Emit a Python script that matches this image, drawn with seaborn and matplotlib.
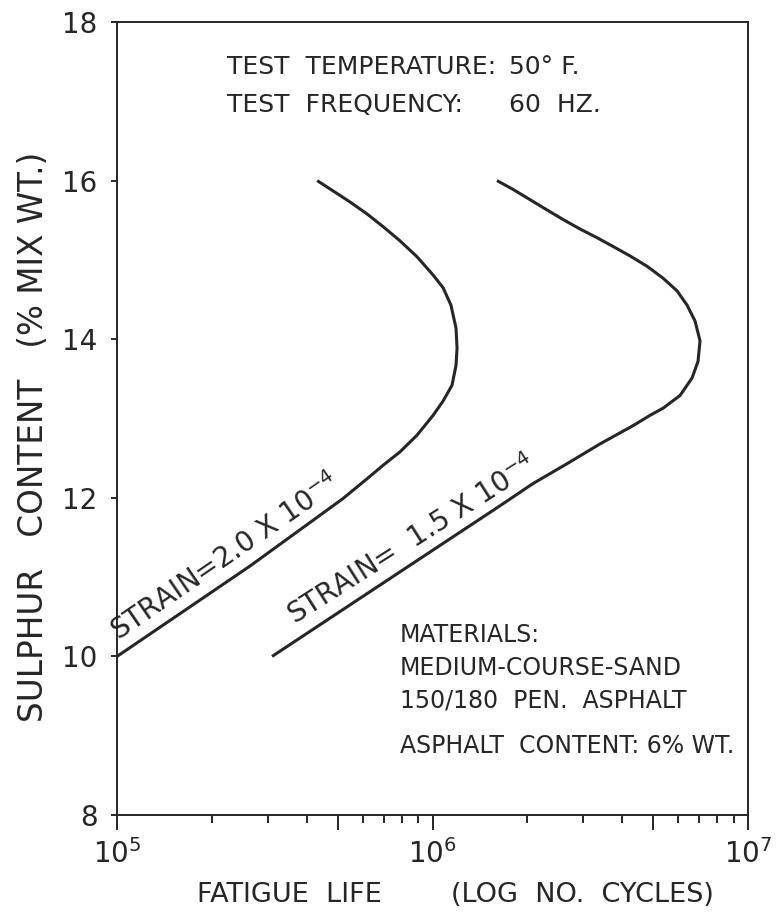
import matplotlib
matplotlib.use("Agg")
import matplotlib.pyplot as plt
from matplotlib.ticker import FixedLocator, FuncFormatter, NullFormatter
import numpy as np
import pandas as pd
import seaborn as sns

# Fatigue life (cycles) vs sulphur content (% mix wt.) for two strain levels
life_strain_20 = [1.00e5, 2.64e5, 5.20e5, 6.20e5, 6.97e5, 7.89e5, 8.93e5,
                  1.004e6, 1.080e6, 1.153e6, 1.187e6, 1.196e6, 1.187e6,
                  1.144e6, 1.080e6, 1.004e6, 8.93e5, 7.89e5, 6.97e5,
                  6.20e5, 5.48e5, 4.84e5, 4.31e5]
sulphur_strain_20 = [10.0, 11.14, 11.99, 12.24, 12.41, 12.58, 12.79,
                     13.04, 13.22, 13.42, 13.67, 13.89, 14.14,
                     14.43, 14.65, 14.81, 15.04, 15.24, 15.42,
                     15.58, 15.73, 15.87, 16.0]

life_strain_15 = [3.10e5, 1.637e6, 2.082e6, 2.669e6, 3.396e6, 4.321e6,
                  4.891e6, 5.378e6, 6.088e6, 6.645e6, 6.942e6, 7.045e6,
                  6.792e6, 6.408e6, 5.957e6, 5.378e6, 4.786e6, 4.227e6,
                  3.734e6, 3.322e6, 2.934e6, 2.592e6, 2.307e6, 2.037e6,
                  1.799e6, 1.601e6]
sulphur_strain_15 = [10.0, 11.90, 12.18, 12.43, 12.68, 12.91,
                     13.04, 13.13, 13.29, 13.51, 13.72, 13.98,
                     14.23, 14.43, 14.61, 14.77, 14.92, 15.05,
                     15.17, 15.28, 15.39, 15.51, 15.63, 15.76,
                     15.89, 16.0]

strain_names = ["STRAIN=2.0 X 10$^{-4}$", "STRAIN=  1.5 X 10$^{-4}$"]

y_ticks = [8, 10, 12, 14, 16, 18]
x_decades = [1e5, 1e6, 1e7]

test_keys = ["TEST  TEMPERATURE:", "TEST  FREQUENCY:"]
test_values = ["50\u00b0 F.", "60  HZ."]
material_lines = ["MATERIALS:", "MEDIUM-COURSE-SAND", "150/180  PEN.  ASPHALT"]
content_line = "ASPHALT  CONTENT: 6% WT."

df = pd.concat([
    pd.DataFrame({"life": life_strain_20, "sulphur": sulphur_strain_20,
                  "strain": strain_names[0]}),
    pd.DataFrame({"life": life_strain_15, "sulphur": sulphur_strain_15,
                  "strain": strain_names[1]}),
])

sns.set_style("ticks")
plt.rcParams["font.family"] = ["DejaVu Sans"]
plt.rcParams["mathtext.fontset"] = "dejavusans"

ink = "#262626"
fig = plt.figure(figsize=(7.77, 9.17), dpi=100)
ax = fig.add_axes([0.1506, 0.1112, 0.8121, 0.8648])

for name in strain_names:
    sub = df[df["strain"] == name]
    sns.lineplot(data=sub, x="life", y="sulphur", sort=False, estimator=None,
                 color=ink, linewidth=2.2, ax=ax, legend=False,
                 solid_capstyle="butt", solid_joinstyle="round")

ax.set_xscale("log")
ax.set_xlim(1e5, 1e7)
ax.set_ylim(8, 18)

for s in ax.spines.values():
    s.set_visible(True)
    s.set_color(ink)
    s.set_linewidth(1.4)

# x axis: decade labels, longer ticks at 5 x 10^n
ax.xaxis.set_major_locator(FixedLocator([1e5, 5e5, 1e6, 5e6, 1e7]))
ax.xaxis.set_major_formatter(FuncFormatter(
    lambda v, p: "10$^{%d}$" % round(np.log10(v)) if v in x_decades else ""))
minor = [m * d for d in [1e5, 1e6] for m in [2, 3, 4, 6, 7, 8, 9]]
ax.xaxis.set_minor_locator(FixedLocator(minor))
ax.xaxis.set_minor_formatter(NullFormatter())
ax.tick_params(axis="x", which="major", direction="out", length=11, width=1.4,
               color=ink, labelsize=20, labelcolor=ink, pad=6)
ax.tick_params(axis="x", which="minor", direction="out", length=6, width=1.4,
               color=ink)

ax.set_yticks(y_ticks)
ax.set_yticklabels([str(v) for v in y_ticks])
ax.tick_params(axis="y", which="major", direction="out", length=4, width=1.4,
               color=ink, labelsize=20, labelcolor=ink, pad=10)

ax.set_xlabel("FATIGUE  LIFE        (LOG  NO.  CYCLES)", fontsize=19.5,
              color=ink, labelpad=12)
ax.xaxis.set_label_coords(0.536, -0.085)
ax.set_ylabel("SULPHUR   CONTENT   (% MIX WT.)", fontsize=23.5, color=ink)
ax.yaxis.set_label_coords(-0.106, 0.477)

# strain labels along the curves
ax.text(1.04e5, 10.13, strain_names[0], rotation=34.5, rotation_mode="anchor",
        ha="left", va="bottom", fontsize=20, color=ink)
ax.text(3.75e5, 10.33, strain_names[1], rotation=32.5, rotation_mode="anchor",
        ha="left", va="bottom", fontsize=20, color=ink)

# test conditions and material notes
for i, (k, v) in enumerate(zip(test_keys, test_values)):
    yy = 0.943 - i * 0.048
    ax.text(0.174, yy, k, transform=ax.transAxes, fontsize=18,
            color=ink, va="center", ha="left")
    ax.text(0.622, yy, v, transform=ax.transAxes, fontsize=18,
            color=ink, va="center", ha="left")
for i, t in enumerate(material_lines):
    ax.text(0.448, 0.227 - i * 0.041, t, transform=ax.transAxes, fontsize=17,
            color=ink, va="center", ha="left")
ax.text(0.448, 0.087, content_line, transform=ax.transAxes, fontsize=17,
        color=ink, va="center", ha="left")

fig.savefig("out.png", dpi=100)
